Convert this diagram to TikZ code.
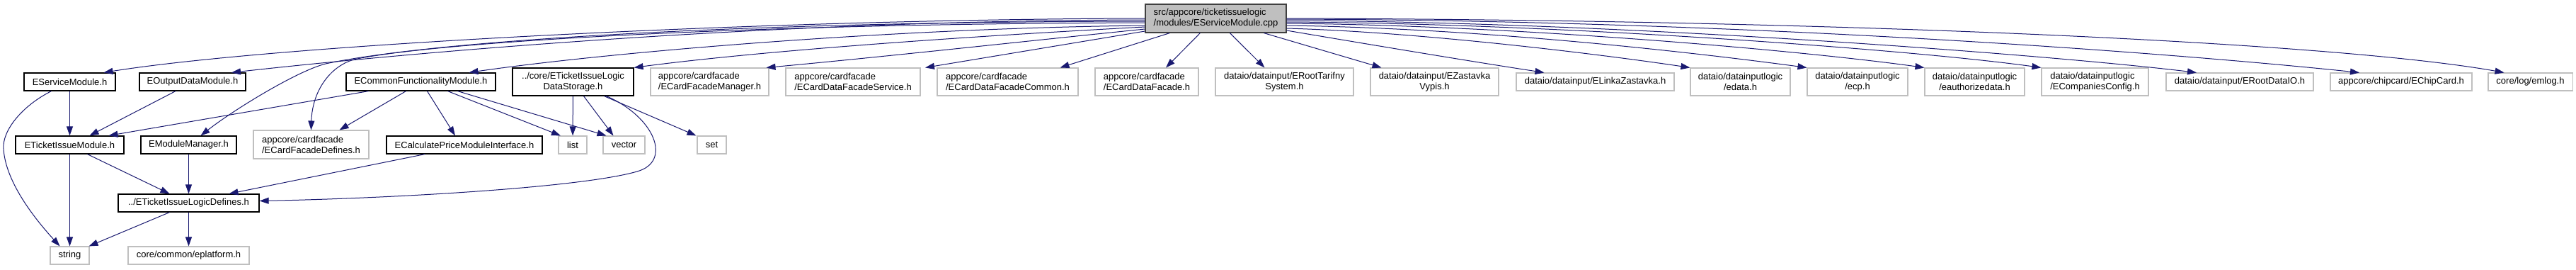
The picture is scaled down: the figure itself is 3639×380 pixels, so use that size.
\documentclass[tikz,border=0pt]{standalone}
\usepackage{fontspec}
\setmainfont{Liberation Sans}
\usetikzlibrary{arrows.meta}
\definecolor{edgeblue}{RGB}{25,25,112}
\definecolor{boxgray}{RGB}{191,191,191}
\definecolor{topborder}{RGB}{64,64,64}
\begin{document}
\begin{tikzpicture}[x=1pt,y=-1pt,
  every node/.style={font=\fontsize{13}{15}\selectfont, inner sep=0pt, text=black},
  doc/.style={draw=black, fill=white, line width=1.2pt, minimum height=25pt},
  ext/.style={draw=boxgray, fill=white, line width=1.1pt, minimum height=25pt},
  topn/.style={draw=topborder, fill=boxgray, line width=1.2pt},
  dep/.style={draw=edgeblue, line width=1pt, -{Triangle[length=13pt,width=9pt]}},
]
\useasboundingbox (0,0) rectangle (3639,380);
\fill[white] (0,0) rectangle (3639,380);

% nodes
\node[topn, minimum width=199pt, minimum height=40pt, align=left] (top) at (1717.5,26) {src/appcore/ticketissuelogic\\/modules/EServiceModule.cpp};

\node[doc, minimum width=129pt] (esm) at (98.5,115.5) {EServiceModule.h};
\node[doc, minimum width=150pt] (eodm) at (272,115.5) {EOutputDataModule.h};
\node[doc, minimum width=211pt] (ecfm) at (594.5,115.5) {ECommonFunctionalityModule.h};
\node[doc, minimum width=171pt, minimum height=39pt, align=center] (ds) at (809.5,115.5) {../core/ETicketIssueLogic\\DataStorage.h};
\node[ext, minimum width=167pt, minimum height=39pt, align=left] (ecfmgr) at (1002.5,115.5) {appcore/cardfacade\\/ECardFacadeManager.h};
\node[ext, minimum width=190pt, minimum height=39pt, align=left] (ecdfs) at (1205,115.5) {appcore/cardfacade\\/ECardDataFacadeService.h};
\node[ext, minimum width=199pt, minimum height=39pt, align=left] (ecdfc) at (1423.5,115.5) {appcore/cardfacade\\/ECardDataFacadeCommon.h};
\node[ext, minimum width=146pt, minimum height=39pt, align=left] (ecdf) at (1620,115.5) {appcore/cardfacade\\/ECardDataFacade.h};
\node[ext, minimum width=195pt, minimum height=39pt, align=center] (erts) at (1814.5,115.5) {dataio/datainput/ERootTarifny\\System.h};
\node[ext, minimum width=181pt, minimum height=39pt, align=center] (ezv) at (2026.5,115.5) {dataio/datainput/EZastavka\\Vypis.h};
\node[ext, minimum width=223pt] (elz) at (2253.5,115.5) {dataio/datainput/ELinkaZastavka.h};
\node[ext, minimum width=141pt, minimum height=39pt, align=center] (edata) at (2458.5,115.5) {dataio/datainputlogic\\/edata.h};
\node[ext, minimum width=142pt, minimum height=39pt, align=center] (ecp) at (2624,115.5) {dataio/datainputlogic\\/ecp.h};
\node[ext, minimum width=141pt, minimum height=39pt, align=center] (eauth) at (2789.5,115.5) {dataio/datainputlogic\\/eauthorizedata.h};
\node[ext, minimum width=151pt, minimum height=39pt, align=left] (ecc) at (2959.5,115.5) {dataio/datainputlogic\\/ECompaniesConfig.h};
\node[ext, minimum width=208pt] (erdio) at (3164,115.5) {dataio/datainput/ERootDataIO.h};
\node[ext, minimum width=200pt] (ecard) at (3392,115.5) {appcore/chipcard/EChipCard.h};
\node[ext, minimum width=119pt] (emlog) at (3574.5,115.5) {core/log/emlog.h};

\node[doc, minimum width=153pt] (etim) at (98.5,204.5) {ETicketIssueModule.h};
\node[doc, minimum width=135pt] (emm) at (266.5,204.5) {EModuleManager.h};
\node[ext, minimum width=163pt, minimum height=40pt, align=left] (ecfd) at (439.5,204) {appcore/cardfacade\\/ECardFacadeDefines.h};
\node[doc, minimum width=220pt] (ecalc) at (656,204.5) {ECalculatePriceModuleInterface.h};
\node[ext, minimum width=40pt] (list) at (809,204.5) {list};
\node[ext, minimum width=59pt] (vector) at (881.5,204.5) {vector};
\node[ext, minimum width=41pt] (set) at (1005.5,204.5) {set};

\node[doc, minimum width=199pt] (eld) at (266.5,286.5) {../ETicketIssueLogicDefines.h};
\node[ext, minimum width=55pt] (string) at (98.5,360.5) {string};
\node[ext, minimum width=171pt] (eplat) at (266.5,360.5) {core/common/eplatform.h};

% edges from top node, left side
\draw[dep] (top.west) .. controls (1100,27) and (400,62) .. ([xshift=48pt]esm.north);
\draw[dep] ([yshift=-2pt]top.west) .. controls (1100,29) and (600,72) .. ([xshift=55pt]eodm.north);
\draw[dep] ([yshift=-4pt]top.west) .. controls (1000,31) and (600,60) .. (460,90) .. controls (420,100) and (330,155) .. ([xshift=17pt]emm.north);
\draw[dep] ([yshift=-6pt]top.west) .. controls (1000,34) and (600,62) .. (500,84) .. controls (465,94) and (441,130) .. (ecfd.north);
\draw[dep] ([yshift=-10pt]top.west) .. controls (1250,40) and (850,75) .. ([xshift=68pt]ecfm.north);
\draw[dep] ([yshift=-12pt]top.west) .. controls (1300,55) and (1050,75) .. (ds.north east);
\draw[dep] ([yshift=-15pt]top.west) .. controls (1450,58) and (1250,80) .. ([xshift=80pt]ecfmgr.north);
\draw[dep] ([yshift=-18pt]top.west) -- ([xshift=102pt]ecdfs.north);
% edges from top node, bottom
\draw[dep] ([xshift=35pt]top.south west) -- ([xshift=74pt]ecdfc.north);
\draw[dep] ([xshift=78pt]top.south west) -- ([xshift=27pt]ecdf.north);
\draw[dep] ([xshift=120pt]top.south west) -- ([xshift=-28pt]erts.north);
\draw[dep] ([xshift=168pt]top.south west) -- ([xshift=-75pt]ezv.north);
% edges from top node, right side
\draw[dep] ([yshift=-17pt]top.east) .. controls (1930,62) and (2080,87) .. ([xshift=-72pt]elz.north);
\draw[dep] ([yshift=-14pt]top.east) .. controls (2000,45) and (2250,75) .. (edata.north west);
\draw[dep] ([yshift=-10pt]top.east) .. controls (2100,40) and (2400,75) .. (ecp.north west);
\draw[dep] ([yshift=-7pt]top.east) .. controls (2150,36) and (2550,72) .. (eauth.north west);
\draw[dep] ([yshift=-5pt]top.east) .. controls (2200,33) and (2700,70) .. (ecc.north west);
\draw[dep] ([yshift=-3pt]top.east) .. controls (2300,31) and (2900,78) .. ([xshift=-61pt]erdio.north);
\draw[dep] ([yshift=-1pt]top.east) .. controls (2500,29) and (3100,78) .. ([xshift=-59pt]ecard.north);
\draw[dep] (top.east) .. controls (2600,28) and (3300,60) .. ([xshift=-37pt]emlog.north);

% second level
\draw[dep] (esm) -- (etim);
\draw[dep] ([xshift=-26pt]esm.south) .. controls (30,150) and (3,185) .. (5,210) .. controls (8,260) and (55,315) .. ([xshift=-14pt]string.north);
\draw[dep] ([xshift=-24pt]eodm.south) -- ([xshift=28pt]etim.north);
\draw[dep] ([xshift=-74pt]ecfm.south) -- ([xshift=55pt]etim.north);
\draw[dep] ([xshift=-21pt]ecfm.south) -- ([xshift=40pt]ecfd.north);
\draw[dep] ([xshift=9pt]ecfm.south) -- ([xshift=-13pt]ecalc.north);
\draw[dep] ([xshift=38pt]ecfm.south) -- ([xshift=-17pt]list.north);
\draw[dep] ([xshift=52pt]ecfm.south) -- ([xshift=-25pt]vector.north);
\draw[dep] (ds) -- (list);
\draw[dep] ([xshift=15pt]ds.south) -- ([xshift=-15pt]vector.north);
\draw[dep] ([xshift=44pt]ds.south) -- ([xshift=-22pt]set.north);
\draw[dep] ([xshift=47pt]ds.south) .. controls (925,165) and (950,228) .. (900,242) .. controls (820,265) and (550,280) .. ([yshift=3pt]eld.east);

% third level
\draw[dep] ([xshift=25pt]etim.south) -- ([xshift=-27pt]eld.north);
\draw[dep] (etim) -- (string);
\draw[dep] (emm) -- (eld);
\draw[dep] ([xshift=-56pt]ecalc.south) -- ([xshift=57pt]eld.north);
\draw[dep] ([xshift=-27pt]eld.south) -- ([xshift=27pt]string.north);
\draw[dep] (eld) -- (eplat);
\end{tikzpicture}
\end{document}
